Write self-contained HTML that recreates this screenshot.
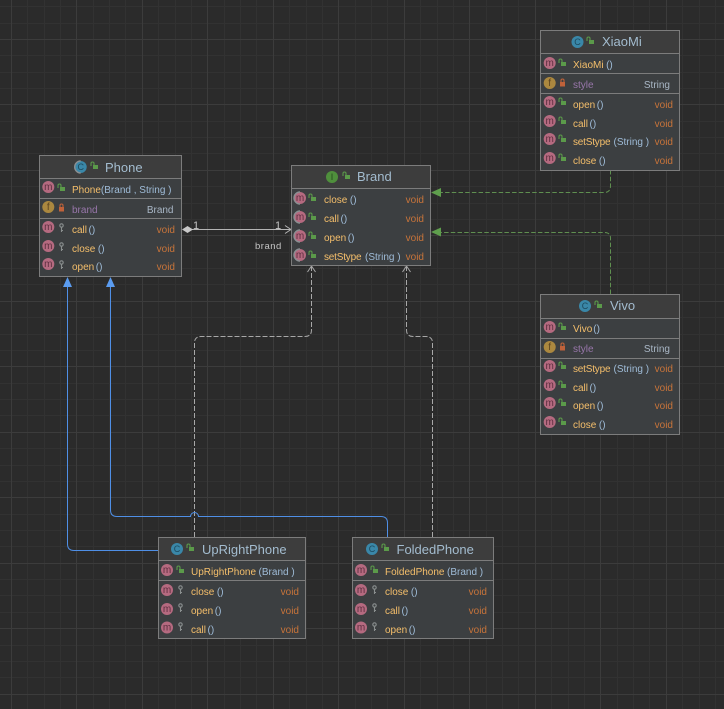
<!DOCTYPE html>
<html><head><meta charset="utf-8"><style>
html,body{margin:0;padding:0;background:#2b2b2b;width:724px;height:709px;overflow:hidden}
svg{display:block}
text{font-family:"Liberation Sans",sans-serif;font-size:10px}
.t{font-size:13px;fill:#a3bccf}
.n{fill:#f5bf6b}.p{fill:#9fbcd8}.v{fill:#c8743a;text-anchor:end}.ty{fill:#a9b7c6;text-anchor:end}.f{fill:#9876aa}
.ic{font-size:10px;fill:#5e2f40;text-anchor:middle}
.c{fill:#1d4a5e;font-size:9px}.y{fill:#5e4520}.g{fill:#234a1c;font-size:9px}
.l{fill:#c4c4c4;font-size:11px}
.box{fill:#3c3f41;stroke:#7c7c7c;stroke-width:1}
.hd{fill:#3d3d3d}.sep{stroke:#7c7c7c;stroke-width:1}
.tight{letter-spacing:-.2px}
</style></head><body>
<svg width="724" height="709" viewBox="0 0 724 709" xmlns="http://www.w3.org/2000/svg">
<defs>
<g id="lo"><rect x="-1" y="-1" width="5" height="4" fill="#5b9a4a"/><path d="M-3 0V-2.5Q-3 -4 -1.5 -4Q0 -4 0 -2.5V-1" fill="none" stroke="#5b9a4a" stroke-width="1.1"/></g>
<g id="lr"><rect x="-2.5" y="-1" width="5" height="4.5" fill="#c0623a"/><path d="M-1.5 -1V-2.5Q-1.5 -4 0 -4Q1.5 -4 1.5 -2.5V-1" fill="none" stroke="#c0623a" stroke-width="1.1"/></g>
<g id="k"><circle cx="0" cy="-2.5" r="1.7" fill="none" stroke="#8a8f8f" stroke-width="1.1"/><path d="M0 -1V4M0 2.5H1.5" stroke="#8a8f8f" stroke-width="1.1" fill="none"/></g>
<circle id="cm" r="6" fill="#b56a80"/><circle id="cf" r="6" fill="#ab883f"/><circle id="cc" r="6" fill="#3a87a8"/><circle id="ci" r="6" fill="#4f8f3c"/>
<path id="ab" d="M0 -6A6 6 0 0 0 0 6" fill="none" stroke="#8b8f92" stroke-width="1.4"/>
</defs>
<rect width="724" height="709" fill="#2b2b2b"/>
<path shape-rendering="crispEdges" fill="none" stroke="#323232" d="M27.5 0V709M44.5 0V709M60.5 0V709M93.5 0V709M109.5 0V709M125.5 0V709M158.5 0V709M175.5 0V709M191.5 0V709M224.5 0V709M240.5 0V709M256.5 0V709M289.5 0V709M306.5 0V709M322.5 0V709M355.5 0V709M371.5 0V709M387.5 0V709M420.5 0V709M437.5 0V709M453.5 0V709M486.5 0V709M502.5 0V709M518.5 0V709M551.5 0V709M568.5 0V709M584.5 0V709M617.5 0V709M633.5 0V709M649.5 0V709M682.5 0V709M699.5 0V709M715.5 0V709M0 6.5H724M0 23.5H724M0 55.5H724M0 72.5H724M0 88.5H724M0 121.5H724M0 137.5H724M0 153.5H724M0 186.5H724M0 203.5H724M0 219.5H724M0 252.5H724M0 268.5H724M0 284.5H724M0 317.5H724M0 334.5H724M0 350.5H724M0 383.5H724M0 399.5H724M0 415.5H724M0 448.5H724M0 465.5H724M0 481.5H724M0 514.5H724M0 530.5H724M0 546.5H724M0 579.5H724M0 595.5H724M0 612.5H724M0 645.5H724M0 661.5H724M0 677.5H724"/>
<path shape-rendering="crispEdges" fill="none" stroke="#3c3c3c" d="M11.5 0V709M76.5 0V709M142.5 0V709M207.5 0V709M273.5 0V709M338.5 0V709M404.5 0V709M469.5 0V709M535.5 0V709M600.5 0V709M666.5 0V709M0 39.5H724M0 104.5H724M0 170.5H724M0 235.5H724M0 301.5H724M0 366.5H724M0 432.5H724M0 497.5H724M0 563.5H724M0 628.5H724M0 694.5H724"/>

<!-- connectors -->
<g fill="none">
<path d="M192 229.5H291" stroke="#b4b4b4"/>
<path d="M285 225.5L291 229.5L285 233.5" stroke="#b4b4b4"/>
<path d="M610.5 170V186Q610.5 192.5 604 192.5H441" stroke="#5f8f50" stroke-dasharray="4.5 2.2"/>
<path d="M610.5 294V238Q610.5 232.5 604 232.5H441" stroke="#5f8f50" stroke-dasharray="4.5 2.2"/>
<path d="M194.5 537V343Q194.5 336.5 201 336.5H305Q311.5 336.5 311.5 330V267" stroke="#a8a8a8" stroke-dasharray="5 2"/>
<path d="M432.5 537V343Q432.5 336.5 426 336.5H413Q406.5 336.5 406.5 330V267" stroke="#a8a8a8" stroke-dasharray="5 2"/>
<path d="M307.5 272L311.5 266L315.5 272M402.5 272L406.5 266L410.5 272" stroke="#a8a8a8"/>
<path d="M158 550.5H74Q67.5 550.5 67.5 544V285" stroke="#4f8fe6"/>
<path d="M387.5 537V523Q387.5 516.5 381 516.5H198.5A4 4 0 0 0 190.5 516.5H117Q110.5 516.5 110.5 510V285" stroke="#4f8fe6"/>
</g>
<path d="M182 229.5L187.5 226L193 229.5L187.5 233Z" fill="#c8c8c8"/>
<path d="M431 192.5L441 188V197Z M431 232L441 227.5V236.5Z" fill="#5f9e4d"/>
<path d="M67.5 277L63 287H72Z M110.5 277L106 287H115Z" fill="#5b9cf0"/>
<text class="l" x="193" y="229">1</text>
<text class="l" x="275" y="229">1</text>
<text class="l" x="255" y="249" style="font-size:9.5px;letter-spacing:.5px">brand</text>

<!-- Phone -->
<rect class="box" x="39.5" y="155.5" width="142" height="121"/>
<rect class="hd" x="40" y="156" width="141" height="22"/>
<path class="sep" d="M40 178.5H181M40 198.5H181M40 218.5H181"/>
<use href="#cc" x="80.7" y="167"/><use href="#ab" x="80.7" y="167"/><text class="ic c" x="80.7" y="170">C</text><use href="#lo" x="94" y="166"/>
<text class="t" x="105" y="172">Phone</text>
<use href="#cm" x="48.3" y="187"/><text class="ic" x="48.3" y="190">m</text><use href="#lo" x="61" y="188"/>
<text x="72" y="193"><tspan class="n">Phone</tspan><tspan class="p">(Brand , String )</tspan></text>
<use href="#cf" x="48.3" y="207"/><text class="ic y" x="48.3" y="210">f</text><use href="#lr" x="61.5" y="208"/>
<text class="f" x="72" y="213">brand</text><text class="ty" x="173.5" y="213">Brand</text>
<use href="#cm" x="48.3" y="227"/><text class="ic" x="48.3" y="230">m</text><use href="#k" x="61.5" y="228"/>
<text x="72" y="233"><tspan class="n">call</tspan><tspan class="p" dx="1.5">()</tspan></text><text class="v" x="175" y="233">void</text>
<use href="#cm" x="48.3" y="246"/><text class="ic" x="48.3" y="249">m</text><use href="#k" x="61.5" y="247"/>
<text x="72" y="252"><tspan class="n">close</tspan><tspan class="p" dx="2.5">()</tspan></text><text class="v" x="175" y="252">void</text>
<use href="#cm" x="48.3" y="264"/><text class="ic" x="48.3" y="267">m</text><use href="#k" x="61.5" y="265"/>
<text x="72" y="270"><tspan class="n">open</tspan><tspan class="p" dx="1.5">()</tspan></text><text class="v" x="175" y="270">void</text>

<!-- Brand -->
<rect class="box" x="291.5" y="165.5" width="139" height="100"/>
<rect class="hd" x="292" y="166" width="138" height="22"/>
<path class="sep" d="M292 188.5H430"/>
<use href="#ci" x="332" y="177"/><text class="ic g" x="332" y="180">I</text><use href="#lo" x="346" y="176"/>
<text class="t" x="357" y="181">Brand</text>
<use href="#cm" x="300" y="198"/><use href="#ab" x="300" y="198"/><text class="ic" x="300" y="201">m</text><use href="#lo" x="312" y="198"/>
<text x="324" y="203"><tspan class="n">close</tspan><tspan class="p" dx="2.5">()</tspan></text><text class="v" x="424" y="203">void</text>
<use href="#cm" x="300" y="217"/><use href="#ab" x="300" y="217"/><text class="ic" x="300" y="220">m</text><use href="#lo" x="312" y="217"/>
<text x="324" y="222"><tspan class="n">call</tspan><tspan class="p" dx="1.5">()</tspan></text><text class="v" x="424" y="222">void</text>
<use href="#cm" x="300" y="236"/><use href="#ab" x="300" y="236"/><text class="ic" x="300" y="239">m</text><use href="#lo" x="312" y="236"/>
<text x="324" y="241"><tspan class="n">open</tspan><tspan class="p" dx="1.5">()</tspan></text><text class="v" x="424" y="241">void</text>
<use href="#cm" x="300" y="255"/><use href="#ab" x="300" y="255"/><text class="ic" x="300" y="258">m</text><use href="#lo" x="312" y="255"/>
<text x="324" y="260"><tspan class="n tight">setStype</tspan><tspan class="p" x="365">(String )</tspan></text><text class="v" x="424" y="260">void</text>

<!-- XiaoMi -->
<rect class="box" x="540.5" y="30.5" width="139" height="140"/>
<rect class="hd" x="541" y="31" width="138" height="22"/>
<path class="sep" d="M541 53.5H679M541 73.5H679M541 93.5H679"/>
<use href="#cc" x="577.5" y="42"/><text class="ic c" x="577.5" y="45">C</text><use href="#lo" x="590" y="41"/>
<text class="t" x="602" y="46">XiaoMi</text>
<use href="#cm" x="549.7" y="63"/><text class="ic" x="549.7" y="66">m</text><use href="#lo" x="562" y="63"/>
<text x="573" y="68"><tspan class="n">XiaoMi</tspan><tspan class="p" dx="2.5">()</tspan></text>
<use href="#cf" x="549.7" y="83"/><text class="ic y" x="549.7" y="86">f</text><use href="#lr" x="562.5" y="83"/>
<text class="f" x="573" y="88">style</text><text class="ty" x="670" y="88">String</text>
<use href="#cm" x="549.7" y="102"/><text class="ic" x="549.7" y="105">m</text><use href="#lo" x="562" y="102"/>
<text x="573" y="108"><tspan class="n">open</tspan><tspan class="p" dx="1.5">()</tspan></text><text class="v" x="673" y="108">void</text>
<use href="#cm" x="549.7" y="121"/><text class="ic" x="549.7" y="124">m</text><use href="#lo" x="562" y="121"/>
<text x="573" y="127"><tspan class="n">call</tspan><tspan class="p" dx="1.5">()</tspan></text><text class="v" x="673" y="127">void</text>
<use href="#cm" x="549.7" y="139"/><text class="ic" x="549.7" y="142">m</text><use href="#lo" x="562" y="139"/>
<text x="573" y="145"><tspan class="n tight">setStype</tspan><tspan class="p" x="613.5">(String )</tspan></text><text class="v" x="673" y="145">void</text>
<use href="#cm" x="549.7" y="158"/><text class="ic" x="549.7" y="161">m</text><use href="#lo" x="562" y="158"/>
<text x="573" y="164"><tspan class="n">close</tspan><tspan class="p" dx="2.5">()</tspan></text><text class="v" x="673" y="164">void</text>

<!-- Vivo -->
<rect class="box" x="540.5" y="294.5" width="139" height="140"/>
<rect class="hd" x="541" y="295" width="138" height="23"/>
<path class="sep" d="M541 318.5H679M541 338.5H679M541 358.5H679"/>
<use href="#cc" x="585" y="306"/><text class="ic c" x="585" y="309">C</text><use href="#lo" x="598" y="305"/>
<text class="t" x="610" y="310">Vivo</text>
<use href="#cm" x="549.7" y="327"/><text class="ic" x="549.7" y="330">m</text><use href="#lo" x="562" y="327"/>
<text x="573" y="332"><tspan class="n">Vivo</tspan><tspan class="p" dx="1">()</tspan></text>
<use href="#cf" x="549.7" y="347"/><text class="ic y" x="549.7" y="350">f</text><use href="#lr" x="562.5" y="347"/>
<text class="f" x="573" y="352">style</text><text class="ty" x="670" y="352">String</text>
<use href="#cm" x="549.7" y="366"/><text class="ic" x="549.7" y="369">m</text><use href="#lo" x="562" y="366"/>
<text x="573" y="372"><tspan class="n tight">setStype</tspan><tspan class="p" x="613.5">(String )</tspan></text><text class="v" x="673" y="372">void</text>
<use href="#cm" x="549.7" y="385"/><text class="ic" x="549.7" y="388">m</text><use href="#lo" x="562" y="385"/>
<text x="573" y="391"><tspan class="n">call</tspan><tspan class="p" dx="1.5">()</tspan></text><text class="v" x="673" y="391">void</text>
<use href="#cm" x="549.7" y="403"/><text class="ic" x="549.7" y="406">m</text><use href="#lo" x="562" y="403"/>
<text x="573" y="409"><tspan class="n">open</tspan><tspan class="p" dx="1.5">()</tspan></text><text class="v" x="673" y="409">void</text>
<use href="#cm" x="549.7" y="422"/><text class="ic" x="549.7" y="425">m</text><use href="#lo" x="562" y="422"/>
<text x="573" y="428"><tspan class="n">close</tspan><tspan class="p" dx="2.5">()</tspan></text><text class="v" x="673" y="428">void</text>

<!-- UpRightPhone -->
<rect class="box" x="158.5" y="537.5" width="147" height="101"/>
<rect class="hd" x="159" y="538" width="146" height="22"/>
<path class="sep" d="M159 560.5H305M159 580.5H305"/>
<use href="#cc" x="177" y="549"/><text class="ic c" x="177" y="552">C</text><use href="#lo" x="190" y="548"/>
<text class="t" x="202" y="554">UpRightPhone</text>
<use href="#cm" x="167" y="570"/><text class="ic" x="167" y="573">m</text><use href="#lo" x="180" y="570"/>
<text x="191" y="575"><tspan class="n">UpRightPhone</tspan><tspan class="p" dx="2.5">(Brand )</tspan></text>
<use href="#cm" x="167" y="590"/><text class="ic" x="167" y="593">m</text><use href="#k" x="180.5" y="590"/>
<text x="191" y="595"><tspan class="n">close</tspan><tspan class="p" dx="2.5">()</tspan></text><text class="v" x="299" y="595">void</text>
<use href="#cm" x="167" y="609"/><text class="ic" x="167" y="612">m</text><use href="#k" x="180.5" y="608"/>
<text x="191" y="614"><tspan class="n">open</tspan><tspan class="p" dx="1.5">()</tspan></text><text class="v" x="299" y="614">void</text>
<use href="#cm" x="167" y="627.5"/><text class="ic" x="167" y="630.5">m</text><use href="#k" x="180.5" y="627"/>
<text x="191" y="633"><tspan class="n">call</tspan><tspan class="p" dx="1.5">()</tspan></text><text class="v" x="299" y="633">void</text>

<!-- FoldedPhone -->
<rect class="box" x="352.5" y="537.5" width="141" height="101"/>
<rect class="hd" x="353" y="538" width="140" height="22"/>
<path class="sep" d="M353 560.5H493M353 580.5H493"/>
<use href="#cc" x="372" y="549"/><text class="ic c" x="372" y="552">C</text><use href="#lo" x="385" y="548"/>
<text class="t" x="396.5" y="554">FoldedPhone</text>
<use href="#cm" x="361" y="570"/><text class="ic" x="361" y="573">m</text><use href="#lo" x="374" y="570"/>
<text x="385" y="575"><tspan class="n">FoldedPhone</tspan><tspan class="p" dx="2.5">(Brand )</tspan></text>
<use href="#cm" x="361" y="590"/><text class="ic" x="361" y="593">m</text><use href="#k" x="374.5" y="590"/>
<text x="385" y="595"><tspan class="n">close</tspan><tspan class="p" dx="2.5">()</tspan></text><text class="v" x="487" y="595">void</text>
<use href="#cm" x="361" y="609"/><text class="ic" x="361" y="612">m</text><use href="#k" x="374.5" y="608"/>
<text x="385" y="614"><tspan class="n">call</tspan><tspan class="p" dx="1.5">()</tspan></text><text class="v" x="487" y="614">void</text>
<use href="#cm" x="361" y="627.5"/><text class="ic" x="361" y="630.5">m</text><use href="#k" x="374.5" y="627"/>
<text x="385" y="633"><tspan class="n">open</tspan><tspan class="p" dx="1.5">()</tspan></text><text class="v" x="487" y="633">void</text>
</svg>
</body></html>
